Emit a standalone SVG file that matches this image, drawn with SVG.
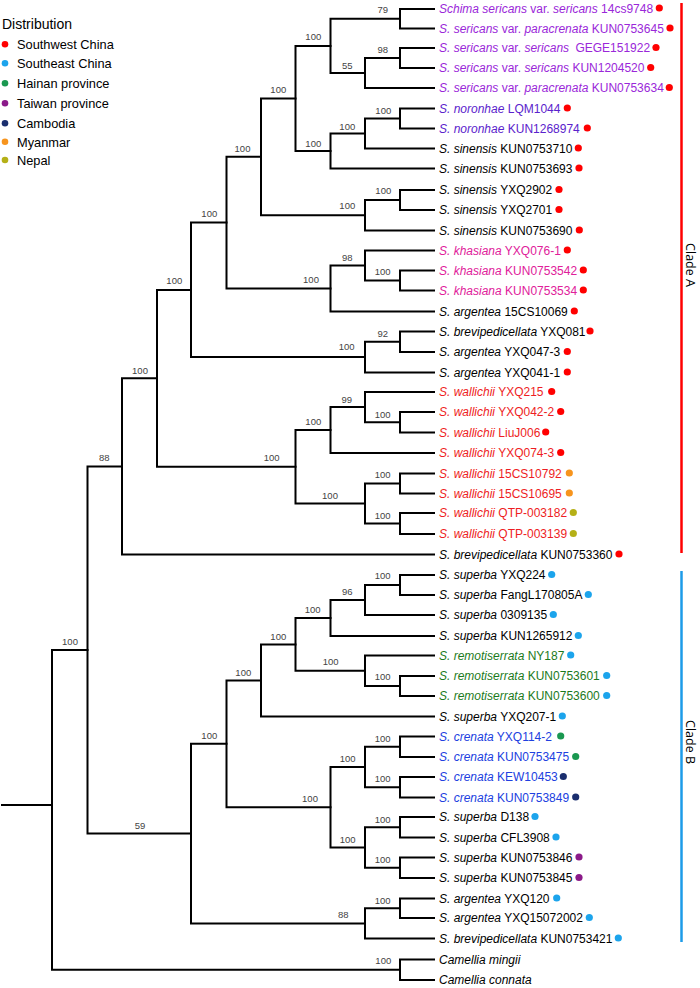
<svg xmlns="http://www.w3.org/2000/svg" width="700" height="988" viewBox="0 0 700 988">
<style>
.br{fill:none;stroke:#000;stroke-width:2;stroke-linejoin:miter;stroke-linecap:square}
.bs{font-family:"Liberation Sans",Arial,sans-serif;font-size:9.5px;fill:#444;text-anchor:middle}
.tl{font-family:"Liberation Sans",Arial,sans-serif;font-size:12px;fill:#000}
.i{font-style:italic}
.pu{fill:#9A27D9}.vi{fill:#5A22CC}.mg{fill:#E0209A}.rd{fill:#EE1D23}.gn{fill:#1B7A1B}.bl{fill:#2040E0}
.lg{font-family:"Liberation Sans",Arial,sans-serif;font-size:12.8px;fill:#000}
.cl{font-family:"Open Sans","Noto Sans",sans-serif;font-size:12.5px;fill:#000;text-anchor:middle}
.dR{fill:#FF0000}.dB{fill:#1CA4EC}.dG{fill:#1A9850}.dP{fill:#8B1A89}.dN{fill:#1A2E6E}.dO{fill:#F7941D}.dY{fill:#B5B017}
</style>
<rect width="700" height="988" fill="#fff"/>
<g id="legend">
<text x="2" y="29" class="lg" style="font-size:14px">Distribution</text>
<circle cx="5" cy="44.3" r="3.3" class="dR"/><text x="17" y="49" class="lg">Southwest China</text>
<circle cx="5" cy="63.3" r="3.3" class="dB"/><text x="17" y="68" class="lg">Southeast China</text>
<circle cx="5" cy="83.3" r="3.3" class="dG"/><text x="17" y="88" class="lg">Hainan province</text>
<circle cx="5" cy="103.3" r="3.3" class="dP"/><text x="17" y="108" class="lg">Taiwan province</text>
<circle cx="5" cy="123.3" r="3.3" class="dN"/><text x="17" y="128" class="lg">Cambodia</text>
<circle cx="5" cy="141.7" r="3.3" class="dO"/><text x="17" y="146.5" class="lg">Myanmar</text>
<circle cx="5" cy="160" r="3.3" class="dY"/><text x="17" y="165" class="lg">Nepal</text>
</g>
<g id="branches" class="br">
<path d="M2 805 H52"/>
<path d="M87.5 650 H52 V969.75 H400"/>
<path d="M122 466.4 H87.5 V833.6 H191"/>
<path d="M434 9 H400 V28.5 H434"/>
<path d="M434 48 H400 V68 H434"/>
<path d="M400 58 H365 V88 H434"/>
<path d="M400 18.75 H330.5 V73 H365"/>
<path d="M434 108.5 H400 V128.5 H434"/>
<path d="M400 118.5 H365 V148.5 H434"/>
<path d="M365 133.5 H330.5 V168.5 H434"/>
<path d="M330.5 45.9 H295.5 V151 H330.5"/>
<path d="M434 190 H400 V210 H434"/>
<path d="M400 200 H365 V230.5 H434"/>
<path d="M295.5 98.4 H261 V215.25 H365"/>
<path d="M434 270.5 H400 V290.5 H434"/>
<path d="M434 250.5 H365 V280.5 H400"/>
<path d="M365 265.5 H330.5 V311.5 H434"/>
<path d="M261 156.8 H226.5 V288.5 H330.5"/>
<path d="M434 331.5 H400 V352 H434"/>
<path d="M400 341.75 H365 V372.5 H434"/>
<path d="M226.5 222.6 H191 V357.1 H365"/>
<path d="M434 412 H400 V432.5 H434"/>
<path d="M434 392 H365 V422.25 H400"/>
<path d="M365 407.1 H330.5 V453 H434"/>
<path d="M434 473.5 H400 V493.5 H434"/>
<path d="M434 513 H400 V534 H434"/>
<path d="M400 483.5 H365 V523.5 H400"/>
<path d="M330.5 430.1 H295.5 V503.5 H365"/>
<path d="M191 289.9 H157 V466.8 H295.5"/>
<path d="M157 378.3 H122 V554.5 H434"/>
<path d="M434 575 H400 V595 H434"/>
<path d="M400 585 H365 V615 H434"/>
<path d="M365 600 H330.5 V636 H434"/>
<path d="M434 676 H400 V696 H434"/>
<path d="M434 655.5 H365 V686 H400"/>
<path d="M330.5 618 H295.5 V670.75 H365"/>
<path d="M295.5 644.4 H261 V716.5 H434"/>
<path d="M434 736.5 H400 V757 H434"/>
<path d="M434 777 H400 V797.5 H434"/>
<path d="M400 746.75 H365 V787.25 H400"/>
<path d="M434 817 H400 V837.5 H434"/>
<path d="M434 857.5 H400 V878 H434"/>
<path d="M400 827.25 H365 V867.75 H400"/>
<path d="M365 767 H330.5 V847.5 H365"/>
<path d="M261 680.4 H226.5 V807.25 H330.5"/>
<path d="M434 898.5 H400 V918 H434"/>
<path d="M400 908.25 H365 V938.5 H434"/>
<path d="M226.5 743.8 H191 V923.4 H365"/>
<path d="M434 959.5 H400 V980 H434"/>
</g>
<g id="bootstrap" class="bs">
<text x="382.7" y="12.8">79</text>
<text x="313.3" y="40.2">100</text>
<text x="382.7" y="52.8">98</text>
<text x="347.3" y="68.5">55</text>
<text x="278.3" y="92.8">100</text>
<text x="383.3" y="113.5">100</text>
<text x="347.3" y="129.5">100</text>
<text x="313.3" y="146.8">100</text>
<text x="242.5" y="151.8">100</text>
<text x="209.3" y="217.2">100</text>
<text x="383.3" y="194.2">100</text>
<text x="347.3" y="208.5">100</text>
<text x="311" y="282.8">100</text>
<text x="347.3" y="260.8">98</text>
<text x="382.7" y="275.2">100</text>
<text x="382.7" y="336.8">92</text>
<text x="346.7" y="349.5">100</text>
<text x="174.3" y="284.2">100</text>
<text x="140" y="373.5">100</text>
<text x="104.3" y="461.2">88</text>
<text x="271.7" y="461.2">100</text>
<text x="313.3" y="425.2">100</text>
<text x="346.7" y="402.8">99</text>
<text x="382.7" y="417.5">100</text>
<text x="330" y="498.5">100</text>
<text x="382.7" y="477.8">100</text>
<text x="382.7" y="518.5">100</text>
<text x="70" y="644.5">100</text>
<text x="140" y="829.2">59</text>
<text x="209.3" y="738.5">100</text>
<text x="243.3" y="675.5">100</text>
<text x="278.3" y="639.5">100</text>
<text x="312.7" y="612.8">100</text>
<text x="347.3" y="595.2">96</text>
<text x="382.7" y="578.5">100</text>
<text x="330.7" y="665.2">100</text>
<text x="382.7" y="680.2">100</text>
<text x="382.7" y="741.8">100</text>
<text x="347.7" y="761.8">100</text>
<text x="382.7" y="781.8">100</text>
<text x="310" y="801.8">100</text>
<text x="382.7" y="822.8">100</text>
<text x="347.7" y="842.8">100</text>
<text x="382.7" y="862.8">100</text>
<text x="382.7" y="903.5">100</text>
<text x="343.3" y="917.8">88</text>
<text x="383.3" y="963.5">100</text>
</g>
<g id="tip-1"><text x="439" y="13.3" class="tl pu"><tspan class="i">Schima sericans</tspan> var. <tspan class="i">sericans</tspan> 14cs9748</text><circle cx="659.3" cy="8" r="3.6" class="dR"/></g>
<g id="tip-2"><text x="439" y="32.8" class="tl pu"><tspan class="i">S. sericans</tspan> var. <tspan class="i">paracrenata</tspan> KUN0753645</text><circle cx="670" cy="28" r="3.6" class="dR"/></g>
<g id="tip-3"><text x="439" y="52.3" class="tl pu"><tspan class="i">S. sericans</tspan> var. <tspan class="i">sericans</tspan> <tspan dx="3">GEGE151922</tspan></text><circle cx="656" cy="47.5" r="3.6" class="dR"/></g>
<g id="tip-4"><text x="439" y="72.3" class="tl pu"><tspan class="i">S. sericans</tspan> var. <tspan class="i">sericans</tspan> KUN1204520</text><circle cx="650.7" cy="67.5" r="3.6" class="dR"/></g>
<g id="tip-5"><text x="439" y="92.3" class="tl pu"><tspan class="i">S. sericans</tspan> var. <tspan class="i">paracrenata</tspan> KUN0753634</text><circle cx="669.3" cy="87.5" r="3.6" class="dR"/></g>
<g id="tip-6"><text x="439" y="112.8" class="tl vi"><tspan class="i">S. noronhae</tspan> LQM1044</text><circle cx="567.3" cy="108" r="3.6" class="dR"/></g>
<g id="tip-7"><text x="439" y="132.8" class="tl vi"><tspan class="i">S. noronhae</tspan> KUN1268974</text><circle cx="587.3" cy="128" r="3.6" class="dR"/></g>
<g id="tip-8"><text x="439" y="152.8" class="tl"><tspan class="i">S. sinensis</tspan> KUN0753710</text><circle cx="578.3" cy="148" r="3.6" class="dR"/></g>
<g id="tip-9"><text x="439" y="172.8" class="tl"><tspan class="i">S. sinensis</tspan> KUN0753693</text><circle cx="579" cy="168" r="3.6" class="dR"/></g>
<g id="tip-10"><text x="439" y="194.3" class="tl"><tspan class="i">S. sinensis</tspan> YXQ2902</text><circle cx="559" cy="189.5" r="3.6" class="dR"/></g>
<g id="tip-11"><text x="439" y="214.3" class="tl"><tspan class="i">S. sinensis</tspan> YXQ2701</text><circle cx="559" cy="209.5" r="3.6" class="dR"/></g>
<g id="tip-12"><text x="439" y="234.8" class="tl"><tspan class="i">S. sinensis</tspan> KUN0753690</text><circle cx="579.3" cy="230" r="3.6" class="dR"/></g>
<g id="tip-13"><text x="439" y="254.8" class="tl mg"><tspan class="i">S. khasiana</tspan> YXQ076-1</text><circle cx="567.3" cy="250" r="3.6" class="dR"/></g>
<g id="tip-14"><text x="439" y="274.8" class="tl mg"><tspan class="i">S. khasiana</tspan> KUN0753542</text><circle cx="583.3" cy="270" r="3.6" class="dR"/></g>
<g id="tip-15"><text x="439" y="294.8" class="tl mg"><tspan class="i">S. khasiana</tspan> KUN0753534</text><circle cx="583.3" cy="290" r="3.6" class="dR"/></g>
<g id="tip-16"><text x="439" y="315.8" class="tl"><tspan class="i">S. argentea</tspan> 15CS10069</text><circle cx="574.3" cy="311" r="3.6" class="dR"/></g>
<g id="tip-17"><text x="439" y="335.8" class="tl"><tspan class="i">S. brevipedicellata</tspan> YXQ081</text><circle cx="590" cy="331" r="3.6" class="dR"/></g>
<g id="tip-18"><text x="439" y="356.3" class="tl"><tspan class="i">S. argentea</tspan> YXQ047-3</text><circle cx="567.3" cy="351.5" r="3.6" class="dR"/></g>
<g id="tip-19"><text x="439" y="376.8" class="tl"><tspan class="i">S. argentea</tspan> YXQ041-1</text><circle cx="567.3" cy="372" r="3.6" class="dR"/></g>
<g id="tip-20"><text x="439" y="396.3" class="tl rd"><tspan class="i">S. wallichii</tspan> YXQ215</text><circle cx="551.7" cy="391.5" r="3.6" class="dR"/></g>
<g id="tip-21"><text x="439" y="416.3" class="tl rd"><tspan class="i">S. wallichii</tspan> YXQ042-2</text><circle cx="560.7" cy="411.5" r="3.6" class="dR"/></g>
<g id="tip-22"><text x="439" y="436.8" class="tl rd"><tspan class="i">S. wallichii</tspan> LiuJ006</text><circle cx="545.7" cy="432" r="3.6" class="dR"/></g>
<g id="tip-23"><text x="439" y="457.3" class="tl rd"><tspan class="i">S. wallichii</tspan> YXQ074-3</text><circle cx="560.7" cy="452.5" r="3.6" class="dR"/></g>
<g id="tip-24"><text x="439" y="477.8" class="tl rd"><tspan class="i">S. wallichii</tspan> 15CS10792</text><circle cx="569.3" cy="473" r="3.6" class="dO"/></g>
<g id="tip-25"><text x="439" y="497.8" class="tl rd"><tspan class="i">S. wallichii</tspan> 15CS10695</text><circle cx="569.3" cy="493" r="3.6" class="dO"/></g>
<g id="tip-26"><text x="439" y="517.3" class="tl rd"><tspan class="i">S. wallichii</tspan> QTP-003182</text><circle cx="573.3" cy="512.5" r="3.6" class="dY"/></g>
<g id="tip-27"><text x="439" y="538.3" class="tl rd"><tspan class="i">S. wallichii</tspan> QTP-003139</text><circle cx="573.3" cy="533.5" r="3.6" class="dY"/></g>
<g id="tip-28"><text x="439" y="558.8" class="tl"><tspan class="i">S. brevipedicellata</tspan> KUN0753360</text><circle cx="619" cy="554" r="3.6" class="dR"/></g>
<g id="tip-29"><text x="439" y="579.3" class="tl"><tspan class="i">S. superba</tspan> YXQ224</text><circle cx="551.7" cy="574.5" r="3.6" class="dB"/></g>
<g id="tip-30"><text x="439" y="599.3" class="tl"><tspan class="i">S. superba</tspan> FangL170805A</text><circle cx="588.3" cy="594.5" r="3.6" class="dB"/></g>
<g id="tip-31"><text x="439" y="619.3" class="tl"><tspan class="i">S. superba</tspan> 0309135</text><circle cx="553.3" cy="614.5" r="3.6" class="dB"/></g>
<g id="tip-32"><text x="439" y="640.3" class="tl"><tspan class="i">S. superba</tspan> KUN1265912</text><circle cx="578.3" cy="635.5" r="3.6" class="dB"/></g>
<g id="tip-33"><text x="439" y="659.8" class="tl gn"><tspan class="i">S. remotiserrata</tspan> NY187</text><circle cx="570.7" cy="655" r="3.6" class="dB"/></g>
<g id="tip-34"><text x="439" y="680.3" class="tl gn"><tspan class="i">S. remotiserrata</tspan> KUN0753601</text><circle cx="606.7" cy="675.5" r="3.6" class="dB"/></g>
<g id="tip-35"><text x="439" y="700.3" class="tl gn"><tspan class="i">S. remotiserrata</tspan> KUN0753600</text><circle cx="606.7" cy="695.5" r="3.6" class="dB"/></g>
<g id="tip-36"><text x="439" y="720.8" class="tl"><tspan class="i">S. superba</tspan> YXQ207-1</text><circle cx="562.3" cy="716" r="3.6" class="dB"/></g>
<g id="tip-37"><text x="439" y="740.8" class="tl bl"><tspan class="i">S. crenata</tspan> YXQ114-2</text><circle cx="560.7" cy="736" r="3.6" class="dG"/></g>
<g id="tip-38"><text x="439" y="761.3" class="tl bl"><tspan class="i">S. crenata</tspan> KUN0753475</text><circle cx="575.7" cy="756.5" r="3.6" class="dG"/></g>
<g id="tip-39"><text x="439" y="781.3" class="tl bl"><tspan class="i">S. crenata</tspan> KEW10453</text><circle cx="563.3" cy="776.5" r="3.6" class="dN"/></g>
<g id="tip-40"><text x="439" y="801.8" class="tl bl"><tspan class="i">S. crenata</tspan> KUN0753849</text><circle cx="575.7" cy="797" r="3.6" class="dN"/></g>
<g id="tip-41"><text x="439" y="821.3" class="tl"><tspan class="i">S. superba</tspan> D138</text><circle cx="535" cy="816.5" r="3.6" class="dB"/></g>
<g id="tip-42"><text x="439" y="841.8" class="tl"><tspan class="i">S. superba</tspan> CFL3908</text><circle cx="556" cy="837" r="3.6" class="dB"/></g>
<g id="tip-43"><text x="439" y="861.8" class="tl"><tspan class="i">S. superba</tspan> KUN0753846</text><circle cx="579" cy="857" r="3.6" class="dP"/></g>
<g id="tip-44"><text x="439" y="882.3" class="tl"><tspan class="i">S. superba</tspan> KUN0753845</text><circle cx="579" cy="877.5" r="3.6" class="dP"/></g>
<g id="tip-45"><text x="439" y="902.8" class="tl"><tspan class="i">S. argentea</tspan> YXQ120</text><circle cx="556.7" cy="898" r="3.6" class="dB"/></g>
<g id="tip-46"><text x="439" y="922.3" class="tl"><tspan class="i">S. argentea</tspan> YXQ15072002</text><circle cx="589.3" cy="917.5" r="3.6" class="dB"/></g>
<g id="tip-47"><text x="439" y="942.8" class="tl"><tspan class="i">S. brevipedicellata</tspan> KUN0753421</text><circle cx="618.3" cy="938" r="3.6" class="dB"/></g>
<g id="tip-48"><text x="439" y="963.8" class="tl i">Camellia mingii</text></g>
<g id="tip-49"><text x="439" y="984.3" class="tl i">Camellia connata</text></g>
<g id="clade-A"><line x1="681.5" y1="3" x2="681.5" y2="553" stroke="#FF0000" stroke-width="2.5"/><text class="cl" transform="translate(685.5,265) rotate(90)">Clade A</text></g>
<g id="clade-B"><line x1="681.5" y1="571" x2="681.5" y2="942" stroke="#1D9BE8" stroke-width="2.5"/><text class="cl" transform="translate(685.5,742) rotate(90)">Clade B</text></g>
</svg>
